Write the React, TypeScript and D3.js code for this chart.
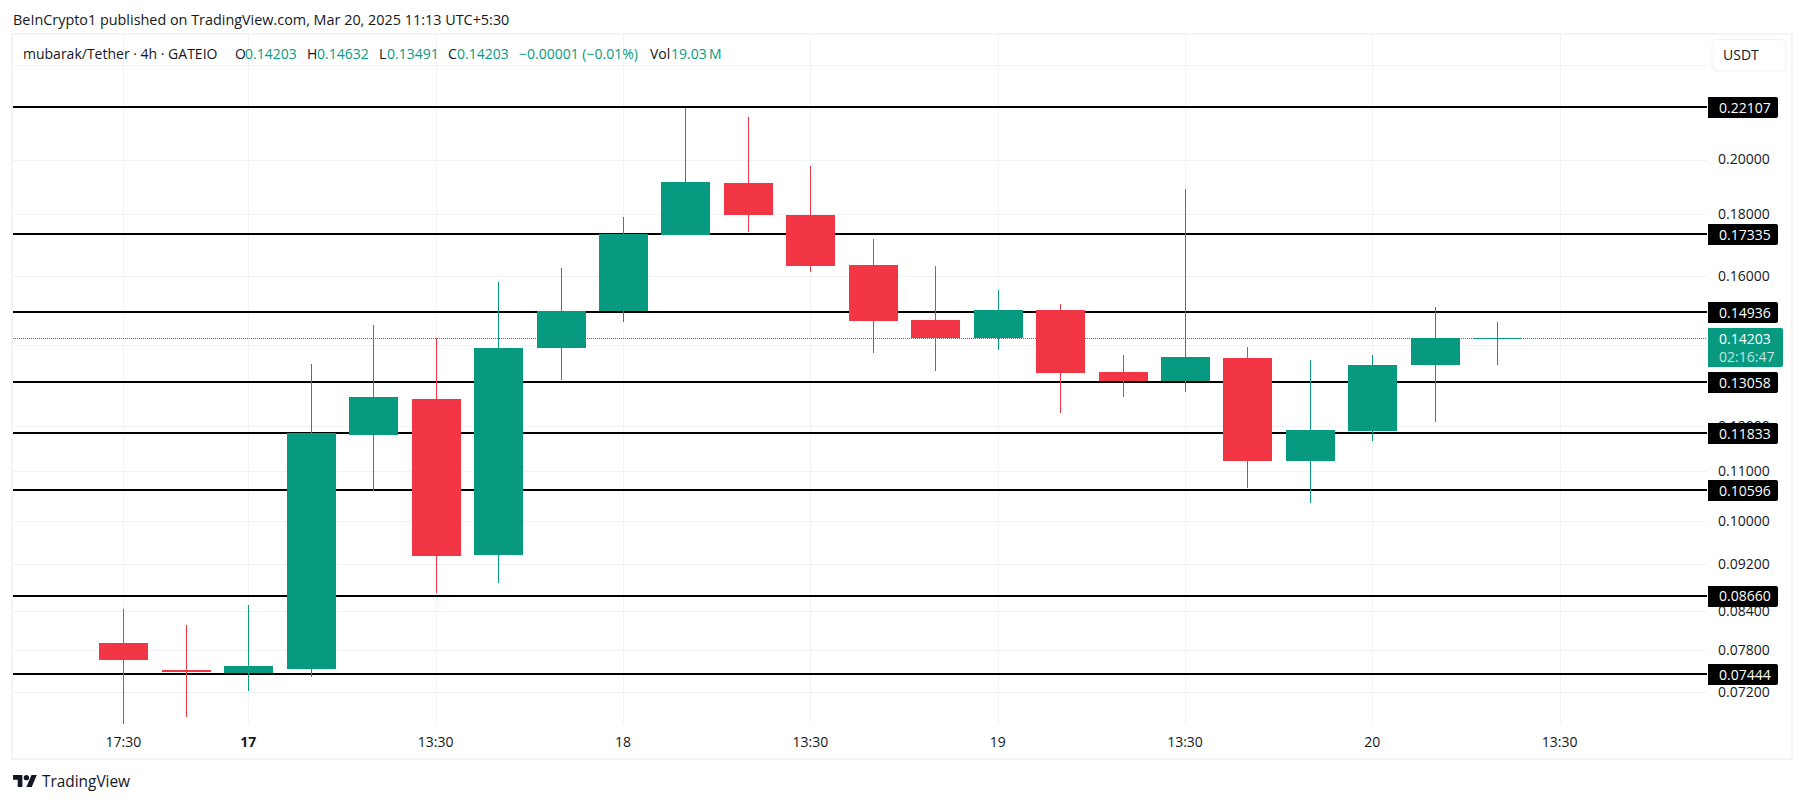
import React from "react";
import * as d3 from "d3";

const W = 1805;
const H = 803;

const opens = [0.07905, 0.07501, 0.07458, 0.0752, 0.11794, 0.12627, 0.09359, 0.1392, 0.14965, 0.17302, 0.19107, 0.17965, 0.16322, 0.14708, 0.14203, 0.14993, 0.13308, 0.13083, 0.13655, 0.11205, 0.11869, 0.13491, 0.14204];
const highs = [0.08444, 0.08192, 0.08498, 0.13499, 0.14548, 0.14188, 0.15799, 0.16229, 0.17896, 0.22077, 0.21687, 0.19741, 0.17169, 0.16291, 0.15558, 0.15167, 0.13733, 0.18888, 0.13946, 0.13603, 0.13733, 0.1508, 0.14632];
const lows = [0.06762, 0.0686, 0.07214, 0.07405, 0.10582, 0.08698, 0.08866, 0.13108, 0.14652, 0.17302, 0.17402, 0.16105, 0.13787, 0.13337, 0.13866, 0.12294, 0.1267, 0.12808, 0.10637, 0.10336, 0.11644, 0.12076, 0.13491];
const closes = [0.0765, 0.07473, 0.07558, 0.11833, 0.1267, 0.09341, 0.1392, 0.14965, 0.17335, 0.19144, 0.17965, 0.16291, 0.1468, 0.14203, 0.14973, 0.13286, 0.13083, 0.13681, 0.11205, 0.11892, 0.13491, 0.14204, 0.14203];

const levels = [0.22107, 0.17335, 0.14936, 0.13058, 0.11833, 0.10596, 0.0866, 0.07444];
const gridPrices = [0.24, 0.2, 0.18, 0.16, 0.14, 0.12, 0.11, 0.1, 0.092, 0.084, 0.078, 0.072];
const priceLabels = [0.2, 0.18, 0.16, 0.12, 0.11, 0.1, 0.092, 0.084, 0.078, 0.072];
const timeTicks = [
  { i: 0, label: "17:30", bold: false },
  { i: 2, label: "17", bold: true },
  { i: 5, label: "13:30", bold: false },
  { i: 8, label: "18", bold: false },
  { i: 11, label: "13:30", bold: false },
  { i: 14, label: "19", bold: false },
  { i: 17, label: "13:30", bold: false },
  { i: 20, label: "20", bold: false },
  { i: 23, label: "13:30", bold: false },
];
const lastPrice = 0.14203;
const countdown = "02:16:47";
const title = "BeInCrypto1 published on TradingView.com, Mar 20, 2025 11:13 UTC+5:30";
const legendParts = [
  { x: 23, t: "mubarak/Tether · 4h · GATEIO", up: false },
  { x: 235, t: "O", up: false },
  { x: 245, t: "0.14203", up: true },
  { x: 307, t: "H", up: false },
  { x: 317, t: "0.14632", up: true },
  { x: 379, t: "L", up: false },
  { x: 387, t: "0.13491", up: true },
  { x: 448, t: "C", up: false },
  { x: 457, t: "0.14203", up: true },
  { x: 519, t: "−0.00001 (−0.01%)", up: true },
  { x: 650, t: "Vol", up: false },
  { x: 671, t: "19.03\u2009M", up: true },
];

const UP = "#089981";
const DOWN = "#F23645";
const INK = "#131722";
const GRID = "#f2f3f6";
const FONT = "'Open Sans', 'Noto Sans', sans-serif";

const x = d3.scaleLinear().domain([0, 23]).range([123.4, 1559.7]);
const y = d3.scaleLog().domain([0.22107, 0.07444]).range([107.4, 674.4]);
const BODY = 49;
const PLOT_L = 13;
const PLOT_R = 1707;
const fmt = d3.format(".5f");

export default function App() {
  const lastY = Math.round(y(lastPrice));
  return (
    <svg
      width={W}
      height={H}
      viewBox={`0 0 ${W} ${H}`}
      style={{ position: "absolute", left: 0, top: 0, display: "block", background: "#fff" }}
      fontFamily={FONT}
      fontSize={14}
    >
      <text x={13} y={20} dy="0.35em" fill={INK} fontSize={14.4}>{title}</text>
      <rect x={12} y={34} width={1780} height={725} fill="#fff" stroke="#f3f4f7" strokeWidth={2} />

      <g stroke={GRID} strokeWidth={1} shapeRendering="crispEdges">
        {timeTicks.map((t) => (
          <line key={t.i} x1={Math.round(x(t.i)) + 0.5} x2={Math.round(x(t.i)) + 0.5} y1={35} y2={724} />
        ))}
        {gridPrices.map((p) => (
          <line key={p} x1={PLOT_L} x2={PLOT_R} y1={Math.round(y(p)) + 0.5} y2={Math.round(y(p)) + 0.5} />
        ))}
      </g>

      {priceLabels.map((p) => (
        <text key={p} x={1718} y={y(p)} dy="0.35em" fill={INK} fontSize={14}>{fmt(p)}</text>
      ))}

      <g stroke="#000" strokeWidth={2} shapeRendering="crispEdges">
        {levels.map((l) => (
          <line key={l} x1={PLOT_L} x2={PLOT_R} y1={Math.round(y(l))} y2={Math.round(y(l))} />
        ))}
      </g>

      <g shapeRendering="crispEdges">
        {opens.map((o, i) => {
          const c = closes[i];
          const col = c >= o || i === opens.length - 1 ? UP : DOWN;
          const top = Math.round(y(Math.max(o, c)));
          const bot = Math.round(y(Math.min(o, c)));
          const cx = Math.round(x(i));
          return (
            <g key={i}>
              <line x1={cx + 0.5} x2={cx + 0.5} y1={Math.min(y(highs[i]), 724)} y2={Math.min(y(lows[i]), 724)} stroke={col} strokeWidth={1} />
              <rect x={cx + 0.5 - BODY / 2} y={top} width={BODY} height={Math.max(1, bot - top)} fill={col} />
            </g>
          );
        })}
      </g>

      <line x1={PLOT_L} x2={PLOT_R} y1={lastY + 0.5} y2={lastY + 0.5} stroke={UP} strokeWidth={1} strokeDasharray="1 1" shapeRendering="crispEdges" />

      {levels.map((l) => (
        <g key={l}>
          <path d={`M1708 ${Math.round(y(l)) - 10}h68a2 2 0 0 1 2 2v17a2 2 0 0 1 -2 2h-68z`} fill="#000" />
          <text x={1719} y={y(l) + 1} dy="0.35em" fill="#fff" fontSize={14} fontWeight={500}>{fmt(l)}</text>
        </g>
      ))}

      <path d={`M1708 ${lastY - 10}h73a2 2 0 0 1 2 2v35a2 2 0 0 1 -2 2h-73z`} fill={UP} />
      <text x={1719} y={lastY + 1} dy="0.35em" fill="#fff" fontSize={14} fontWeight={500}>{fmt(lastPrice)}</text>
      <text x={1719} y={lastY + 19} dy="0.35em" fill="#fff" fillOpacity={0.75} fontSize={14} fontWeight={500}>{countdown}</text>

      <rect x={1712} y={39.5} width={74} height={31.5} rx={5} fill="#fff" stroke="#f0f1f4" />
      <text x={1723} y={55} dy="0.35em" fill={INK} fontSize={14}>USDT</text>

      {legendParts.map((p, i) => (
        <text key={i} x={p.x} y={54} dy="0.35em" fill={p.up ? UP : INK} fontSize={14}>{p.t}</text>
      ))}

      {timeTicks.map((t) => (
        <text key={t.i} x={x(t.i)} y={742} dy="0.35em" textAnchor="middle" fill={INK} fontSize={14} fontWeight={t.bold ? 700 : 400}>{t.label}</text>
      ))}

      <g transform="translate(13 772.3) scale(0.67)" fill={INK}>
        <path d="M14 22H7V11H0V4h14v18zM28 22h-8l7.5-18h8L28 22z" />
        <circle cx="20" cy="8" r="4" />
      </g>
      <text x={42} y={782} dy="0.35em" fill={INK} fontSize={15.4} fontWeight={500}>TradingView</text>
    </svg>
  );
}
